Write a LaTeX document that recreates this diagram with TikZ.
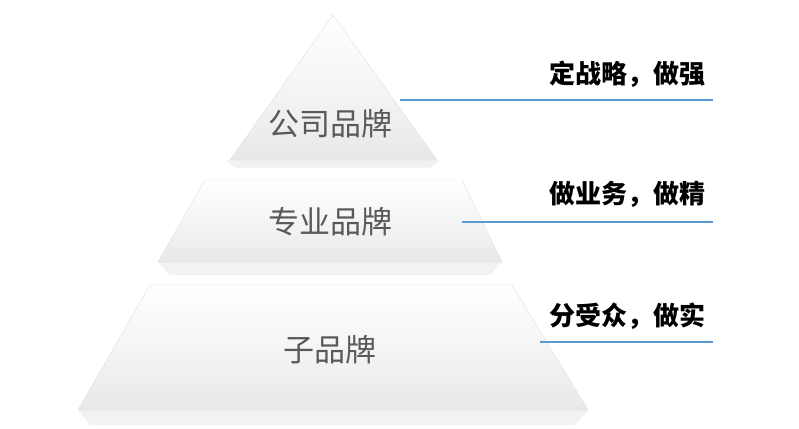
\documentclass[tikz,border=0pt]{standalone}
\usepackage{fontspec}
\setmainfont{Noto Sans CJK SC}
\definecolor{lineblue}{RGB}{91,155,213}
\tikzset{
  layer/.style={draw=gray!25, top color=white, bottom color=gray!18, middle color=gray!8},
  lip/.style={fill=gray!10, draw=none},
  tier/.style={font=\fontsize{31}{34}\selectfont, text=gray!70!black},
  note/.style={font=\bfseries\fontsize{26}{29}\selectfont, anchor=south east, inner sep=2pt},
  leader/.style={lineblue, line width=1.2pt}
}
\begin{document}
\begin{tikzpicture}[x=1pt,y=-1pt]
                \useasboundingbox (0,0) rectangle (799,428);
                % pyramid layers
                \fill[lip] (225,160) -- (440,160) -- (430,168) -- (235,168) -- cycle;
                \draw[layer] (333,15) -- (437,160) -- (230,160) -- cycle;
                \fill[lip] (158,262) -- (502,262) -- (490,275) -- (170,275) -- cycle;
                \draw[layer] (205,180) -- (462,180) -- (502,262) -- (158,262) -- cycle;
                \fill[lip] (78,410) -- (588,410) -- (575,425) -- (90,425) -- cycle;
                \draw[layer] (150,285) -- (512,285) -- (588,410) -- (78,410) -- cycle;
                
                \node[tier] (top) at (330,124) {公司品牌};
                \node[tier] (mid) at (330,222) {专业品牌};
                \node[tier] (base) at (330,350) {子品牌};
                
                % leaders and notes
                \coordinate (topL) at (400,100);
                \coordinate (topR) at (713,100);
                \coordinate (midL) at (462,222);
                \coordinate (midR) at (713,222);
                \coordinate (baseL) at (540,342);
                \coordinate (baseR) at (713,342);
                \draw[leader] (topL) -- (topR);
                \draw[leader] (midL) -- (midR);
                \draw[leader] (baseL) -- (baseR);
                
                \node[note] (topnote) at ([shift={(-5,-10)}]topR) {定战略，做强};
                \node[note] (midnote) at ([shift={(-5,-12)}]midR) {做业务，做精};
                \node[note] (basenote) at ([shift={(-5,-10)}]baseR) {分受众，做实};
            \end{tikzpicture}
\end{document}
